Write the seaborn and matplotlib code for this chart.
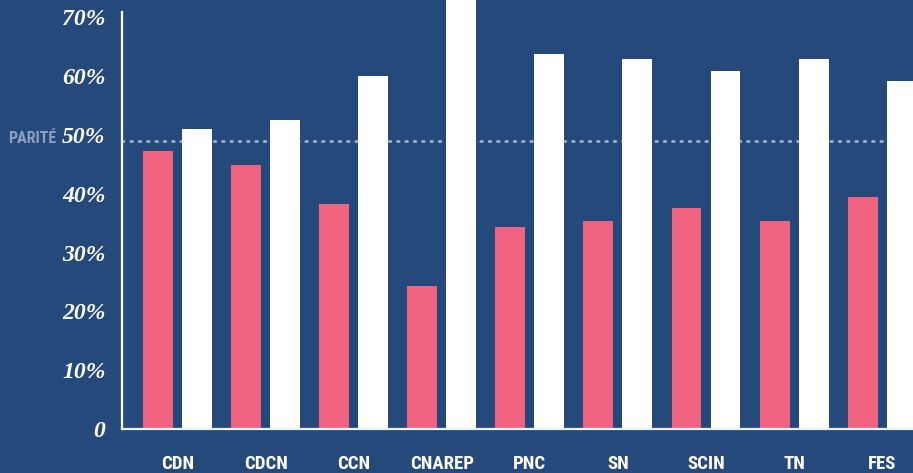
import matplotlib
matplotlib.use("Agg")
import matplotlib.pyplot as plt
import matplotlib.transforms as mtransforms
from matplotlib import font_manager
import seaborn as sns
import pandas as pd

# Part des femmes / des hommes par réseau de labels
categories = ["CDN", "CDCN", "CCN", "CNAREP", "PNC", "SN", "SCIN", "TN", "FES"]
femmes = [47.3, 44.9, 38.3, 24.3, 34.4, 35.4, 37.6, 35.4, 39.5]
hommes = [51.0, 52.6, 60.0, 74.5, 63.8, 62.9, 60.9, 62.9, 59.2]
series = ["Femmes", "Hommes"]
ytick_values = [0, 10, 20, 30, 40, 50, 60, 70]
ytick_labels = ["0", "10%", "20%", "30%", "40%", "50%", "60%", "70%"]
parite = 49
parite_label = "PARITÉ"

BG = "#25497b"
PINK = "#f06482"
WHITE = "#ffffff"
DOTS = "#9fb0cc"
LABEL_GREY = "#8e9fbf"

df = pd.DataFrame({
    "reseau": categories * 2,
    "genre": [series[0]] * len(categories) + [series[1]] * len(categories),
    "part": femmes + hommes,
})

sns.set_theme(style="white")
plt.rcParams["font.family"] = ["DejaVu Sans"]

# Police étroite pour les libellés en capitales
installed = {f.name for f in font_manager.fontManager.ttflist}
narrow_candidates = ["Liberation Sans Narrow", "DejaVu Sans Condensed",
                     "Roboto Condensed", "Open Sans Condensed", "Noto Sans Condensed"]
narrow = next((n for n in narrow_candidates if n in installed), None)
if narrow:
    cond_font = dict(family=[narrow, "DejaVu Sans"], stretch="normal")
    cond_size = 13.5
else:
    cond_font = dict(family=["DejaVu Sans"], stretch="condensed")
    cond_size = 11

W, H = 913, 473
fig = plt.figure(figsize=(W / 100, H / 100), dpi=100, facecolor=BG)
ax_left, ax_bottom = 122, 44
ax = fig.add_axes([ax_left / W, ax_bottom / H, (W - ax_left) / W, (H - ax_bottom) / H])
ax.set_facecolor(BG)

sns.barplot(data=df, x="reseau", y="part", hue="genre",
            order=categories, hue_order=series,
            palette={series[0]: PINK, series[1]: WHITE},
            width=0.886, gap=0.233, errorbar=None, saturation=1,
            linewidth=0, legend=False, ax=ax)

ax.set_xlim(-0.63, 8.35)
ax.set_ylim(0, 72.96)
for bar in ax.patches:
    bar.set_clip_on(False)

# Ligne de parité
ax.axhline(parite, color=DOTS, linewidth=2, linestyle=(0, (0.6, 2.4)),
           dash_capstyle="round", zorder=0.5)
trans = mtransforms.blended_transform_factory(fig.transFigure, ax.transData)
ax.text(8 / W, parite + 0.4, parite_label, transform=trans, ha="left", va="center",
        color=LABEL_GREY, fontsize=11.5, fontweight="bold",
        clip_on=False, **cond_font)

# Axes
for side in ["top", "right"]:
    ax.spines[side].set_visible(False)
ax.spines["left"].set_color(WHITE)
ax.spines["left"].set_linewidth(1.6)
ax.spines["left"].set_bounds(0, 70.9)
ax.spines["bottom"].set_color("#eef1f6")
ax.spines["bottom"].set_linewidth(1.6)

ax.set_yticks(ytick_values)
ax.set_yticklabels(ytick_labels)
ax.tick_params(axis="y", length=0, pad=12, colors=WHITE)
ax.tick_params(axis="x", length=0, pad=18.5, colors=WHITE)
for lab in ax.get_yticklabels():
    lab.set_family(["Liberation Serif", "DejaVu Serif"])
    lab.set_fontstyle("italic")
    lab.set_fontweight("bold")
    lab.set_fontsize(17)
for lab in ax.get_xticklabels():
    lab.set_family(cond_font["family"])
    lab.set_fontstretch(cond_font["stretch"])
    lab.set_fontweight("bold")
    lab.set_fontsize(cond_size)

ax.set_xlabel("")
ax.set_ylabel("")

fig.savefig("out.png", dpi=100, facecolor=BG)
